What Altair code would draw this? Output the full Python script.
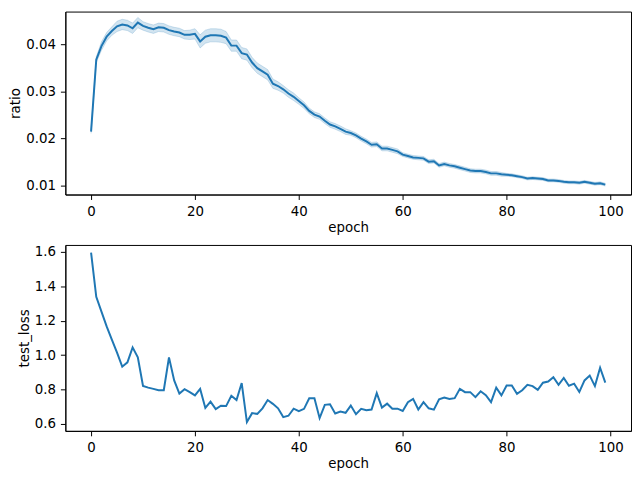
import altair as alt
import pandas as pd

epochs = list(range(100))

ratio = [
    0.0214, 0.0367, 0.0396, 0.0416, 0.0428, 0.0438, 0.0442, 0.0440, 0.0434, 0.0446,
    0.0439, 0.0435, 0.0432, 0.0436, 0.0435, 0.0430, 0.0427, 0.0425, 0.0420, 0.0420,
    0.0422, 0.0406, 0.0416, 0.0419, 0.0419, 0.0418, 0.0414, 0.0397, 0.0397, 0.0381,
    0.0378, 0.0361, 0.0349, 0.0342, 0.0335, 0.0316, 0.0311, 0.0304, 0.0295, 0.0288,
    0.0279, 0.0270, 0.0258, 0.0250, 0.0246, 0.0237, 0.0229, 0.0225, 0.0220, 0.0214,
    0.0211, 0.0206, 0.0199, 0.0193, 0.0186, 0.0187, 0.0178, 0.0178, 0.0175, 0.0172,
    0.0165, 0.0162, 0.0159, 0.0158, 0.0157, 0.0150, 0.0151, 0.0142, 0.0145, 0.0142,
    0.0140, 0.0137, 0.0134, 0.0131, 0.0130, 0.0130, 0.0128, 0.0125, 0.0125, 0.0123,
    0.0122, 0.0121, 0.0119, 0.0117, 0.0114, 0.0115, 0.0114, 0.0113, 0.0110, 0.0110,
    0.0109, 0.0107, 0.0106, 0.0106, 0.0105, 0.0107, 0.0105, 0.0103, 0.0104, 0.0101,
]

# half-width of the confidence band (x 1e-4)
ratio_ci = [
    4, 6, 9, 9, 9, 11, 11, 11, 11, 11,
    9, 9, 9, 9, 9, 9, 9, 9, 9, 10,
    11, 14, 14, 14, 14, 14, 13, 12, 12, 12,
    12, 11, 11, 11, 11, 10, 9, 8, 8, 8,
    7, 7, 6, 6, 6, 6, 6, 6, 6, 6,
    5, 5, 5, 5, 5, 5, 5, 5, 5, 5,
    4, 4, 4, 4, 4, 4, 4, 4, 4, 4,
    4, 4, 4, 4, 4, 4, 4, 4, 4, 4,
    3, 3, 3, 3, 3, 3, 3, 3, 3, 3,
    3, 3, 3, 3, 3, 3, 3, 3, 3, 3,
]

test_loss = [
    1.596, 1.339, 1.253, 1.167, 1.090, 1.015, 0.933, 0.958, 1.045, 0.987,
    0.821, 0.811, 0.804, 0.796, 0.796, 0.987, 0.853, 0.777, 0.802, 0.785,
    0.766, 0.804, 0.693, 0.730, 0.686, 0.706, 0.704, 0.764, 0.739, 0.838,
    0.611, 0.663, 0.659, 0.691, 0.739, 0.717, 0.691, 0.640, 0.648, 0.689,
    0.674, 0.688, 0.749, 0.749, 0.634, 0.711, 0.714, 0.661, 0.672, 0.665,
    0.707, 0.657, 0.688, 0.680, 0.684, 0.779, 0.695, 0.718, 0.689, 0.689,
    0.676, 0.726, 0.746, 0.684, 0.727, 0.691, 0.683, 0.743, 0.754, 0.745,
    0.750, 0.804, 0.785, 0.785, 0.756, 0.790, 0.767, 0.727, 0.811, 0.766,
    0.824, 0.824, 0.775, 0.796, 0.828, 0.820, 0.798, 0.840, 0.847, 0.872,
    0.828, 0.868, 0.822, 0.834, 0.786, 0.853, 0.881, 0.820, 0.927, 0.840,
]

x_ticks = [0, 20, 40, 60, 80, 100]
ratio_ticks = [0.01, 0.02, 0.03, 0.04]
loss_ticks = [0.6, 0.8, 1.0, 1.2, 1.4, 1.6]

df_r = pd.DataFrame({
    "epoch": epochs,
    "ratio": ratio,
    "lo": [r - c * 1e-4 for r, c in zip(ratio, ratio_ci)],
    "hi": [r + c * 1e-4 for r, c in zip(ratio, ratio_ci)],
})
df_l = pd.DataFrame({"epoch": epochs, "test_loss": test_loss})

BLUE = "#1f77b4"
xscale = alt.Scale(domain=[-4.95, 103.95], nice=False, zero=False)
xaxis = alt.Axis(values=x_ticks, format="d", title="epoch")

band = alt.Chart(df_r).mark_area(color=BLUE, opacity=0.2).encode(
    x=alt.X("epoch:Q", scale=xscale, axis=xaxis),
    y=alt.Y("lo:Q", scale=alt.Scale(domain=[0.0080, 0.04695], nice=False, zero=False),
            axis=alt.Axis(values=ratio_ticks, format=".2f", title="ratio")),
    y2="hi:Q",
)
band_edge_lo = alt.Chart(df_r).mark_line(color=BLUE, opacity=0.2, strokeWidth=1).encode(
    x=alt.X("epoch:Q", scale=xscale, axis=xaxis), y="lo:Q")
band_edge_hi = alt.Chart(df_r).mark_line(color=BLUE, opacity=0.2, strokeWidth=1).encode(
    x=alt.X("epoch:Q", scale=xscale, axis=xaxis), y="hi:Q")
line_r = alt.Chart(df_r).mark_line(color=BLUE, strokeWidth=2).encode(
    x=alt.X("epoch:Q", scale=xscale, axis=xaxis),
    y=alt.Y("ratio:Q"),
)
top = alt.layer(band, band_edge_lo, band_edge_hi, line_r).properties(width=572, height=185)

bottom = alt.Chart(df_l).mark_line(color=BLUE, strokeWidth=2).encode(
    x=alt.X("epoch:Q", scale=xscale, axis=xaxis),
    y=alt.Y("test_loss:Q", scale=alt.Scale(domain=[0.56, 1.64], nice=False, zero=False),
            axis=alt.Axis(values=loss_ticks, format=".1f", title="test_loss")),
).properties(width=572, height=188)

chart = alt.vconcat(top, bottom, spacing=51, bounds="flush").properties(
    padding={"left": 0, "top": 0, "right": 0, "bottom": 0}
).configure_view(
    stroke="black", strokeWidth=1
).configure_axis(
    grid=False,
    domainColor="black",
    tickColor="black",
    labelColor="black",
    titleColor="black",
    labelFont="DejaVu Sans",
    titleFont="DejaVu Sans",
    labelFontSize=13.5,
    titleFontSize=13.5,
    titleFontWeight="normal",
    tickSize=5,
    labelPadding=5,
    titlePadding=3,
)

chart.save("out.html", embed_options={"renderer": "svg", "actions": False})
